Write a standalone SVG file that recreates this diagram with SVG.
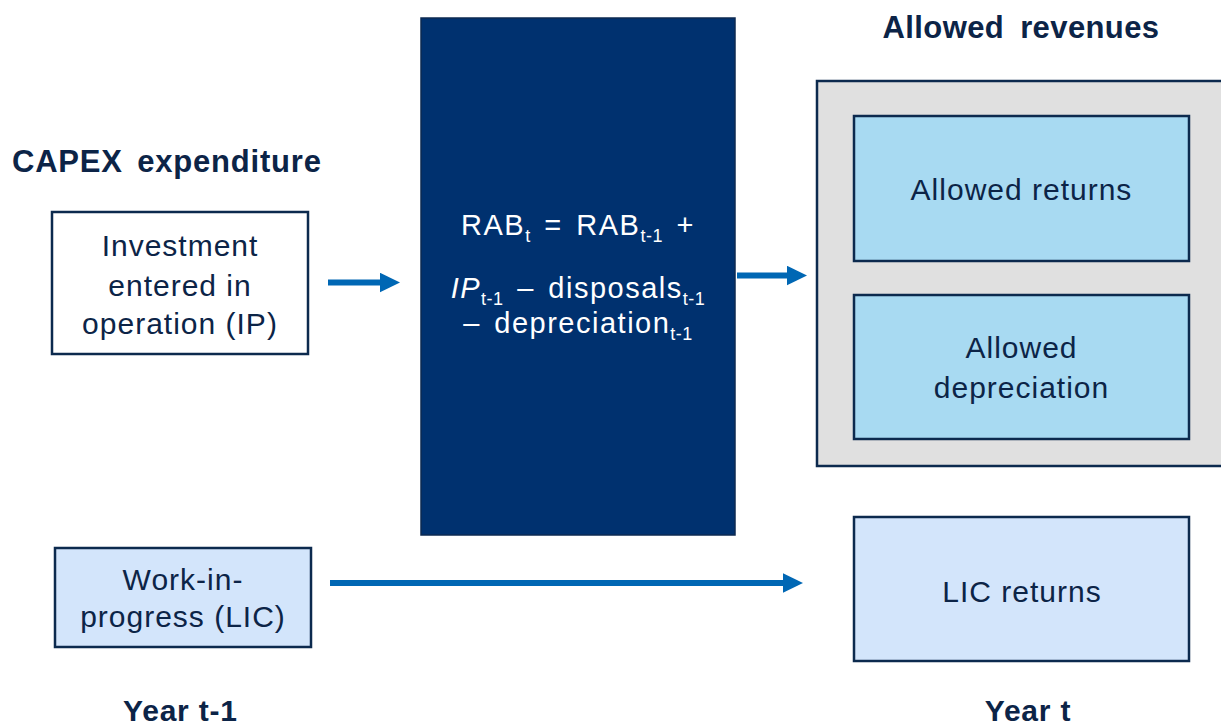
<svg xmlns="http://www.w3.org/2000/svg" width="1221" height="728" viewBox="0 0 1221 728">
  <style>
    .lbl { font-family: "Liberation Sans", Arial, sans-serif; font-size: 30px; fill: #0c2447; letter-spacing: 1px; text-anchor: middle; }
    .ttl { font-family: "Liberation Sans", Arial, sans-serif; font-weight: bold; font-size: 31px; fill: #0c2447; }
    .yr  { font-family: "Liberation Sans", Arial, sans-serif; font-weight: bold; font-size: 30px; fill: #0c2447; letter-spacing: 0.8px; }
    .rab { font-family: "Liberation Sans", Arial, sans-serif; font-size: 29px; fill: #ffffff; letter-spacing: 1.5px; word-spacing: 4px; text-anchor: middle; }
    .sub { font-size: 18px; letter-spacing: 0.5px; }
    .box { stroke: #0c2a4e; stroke-width: 2.5; }
    .plain { fill: #ffffff; }
    .wip { fill: #d3e5fb; }
    .rev { fill: #a8daf2; }
    .conn { stroke: #0067b4; stroke-width: 6; fill: none; }
  </style>
  <defs>
    <marker id="head" markerUnits="userSpaceOnUse" markerWidth="20" markerHeight="20" viewBox="0 0 20 20" refX="1" refY="9.75" orient="auto">
      <path d="M0,0 L20,9.75 L0,19.5 z" fill="#0067b4"/>
    </marker>
  </defs>

  <rect width="1221" height="728" fill="#ffffff"/>

  <!-- headings -->
  <text class="ttl" x="12" y="172" style="word-spacing:5px;letter-spacing:0.8px">CAPEX expenditure</text>
  <text class="ttl" x="1021" y="38" text-anchor="middle" style="word-spacing:7px;letter-spacing:0.4px">Allowed revenues</text>
  <text class="yr" x="123" y="721">Year t-1</text>
  <text class="yr" x="1028" y="721" text-anchor="middle">Year t</text>

  <!-- investment entered in operation -->
  <g id="investment">
    <rect class="box plain" x="52" y="212" width="256" height="142"/>
    <text class="lbl" x="180" y="256">Investment</text>
    <text class="lbl" x="180" y="296">entered in</text>
    <text class="lbl" x="180" y="334">operation (IP)</text>
  </g>

  <!-- work in progress -->
  <g id="wip">
    <rect class="box wip" x="55" y="548" width="256" height="99"/>
    <text class="lbl" x="183" y="590">Work-in-</text>
    <text class="lbl" x="183" y="627">progress (LIC)</text>
  </g>

  <!-- regulatory asset base roll-forward -->
  <g id="rab">
    <rect x="421" y="18" width="314" height="517" fill="#00316f" stroke="#0d2a52" stroke-width="1.5"/>
    <text class="rab" x="578" y="235">RAB<tspan class="sub" dy="7">t</tspan><tspan dy="-7"> = RAB</tspan><tspan class="sub" dy="7">t-1</tspan><tspan dy="-7"> +</tspan></text>
    <text class="rab" x="578" y="298"><tspan font-style="italic">IP</tspan><tspan class="sub" dy="7">t-1</tspan><tspan dy="-7"> – disposals</tspan><tspan class="sub" dy="7">t-1</tspan></text>
    <text class="rab" x="578" y="333">– depreciation<tspan class="sub" dy="7">t-1</tspan></text>
  </g>

  <!-- allowed revenues container -->
  <g id="revenues">
    <rect class="box" x="817" y="81" width="410" height="385" fill="#e0e0e0"/>
  </g>
  <g id="returns">
    <rect class="box rev" x="854" y="116" width="335" height="145"/>
    <text class="lbl" x="1021.5" y="200">Allowed returns</text>
  </g>
  <g id="depreciation">
    <rect class="box rev" x="854" y="295" width="335" height="144"/>
    <text class="lbl" x="1021.5" y="358">Allowed</text>
    <text class="lbl" x="1021.5" y="398">depreciation</text>
  </g>

  <!-- LIC returns -->
  <g id="lic">
    <rect class="box wip" x="854" y="517" width="335" height="144"/>
    <text class="lbl" x="1022" y="602">LIC returns</text>
  </g>

  <!-- connectors -->
  <g id="connectors">
    <line class="conn" x1="328" y1="282.5" x2="381" y2="282.5" marker-end="url(#head)"/>
    <line class="conn" x1="737" y1="275.5" x2="788" y2="275.5" marker-end="url(#head)"/>
    <line class="conn" x1="330" y1="583" x2="784" y2="583" marker-end="url(#head)"/>
  </g>
</svg>
